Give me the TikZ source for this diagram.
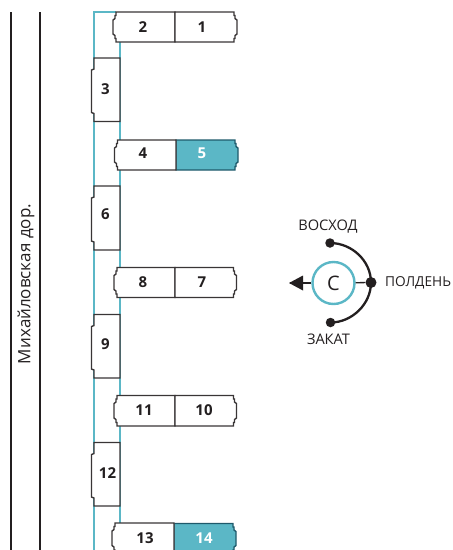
\documentclass[tikz,border=0pt]{standalone}
\usepackage{fontspec}
\setmainfont{Open Sans}
\definecolor{teal1}{HTML}{5BB7C6}
\definecolor{ink}{HTML}{231F20}
\definecolor{tealdark}{HTML}{1F5A6B}
\tikzset{
  x=1pt,y=-1pt,
  road/.style={ink,line width=2.2pt},
  walk/.style={teal1,line width=1.5pt},
  wall/.style={draw=ink!90,line width=1.4pt,fill=white,line join=miter},
  wallsold/.style={draw=tealdark,line width=1.4pt,fill=teal1,line join=miter},
  num/.style={font=\fontsize{15}{15}\selectfont\bfseries,text=ink,inner sep=0pt},
  numw/.style={font=\fontsize{15}{15}\selectfont\bfseries,text=white,inner sep=0pt},
  lab/.style={font=\fontsize{14.6}{15}\selectfont,text=ink,inner sep=0pt},
  dot/.style={circle,fill=ink,inner sep=0pt,minimum size=#1},
}
% left half: x-left main, divider, top
\newcommand{\lefthalf}[5]{% style, xl, xd, yt, yb
  \path[#1] (#2,#4) -- (#3,#4) -- (#3,#5) -- (#2,#5) -- (#2,#5-3.5) -- (#2-1,#5-3.5) -- (#2-1,#5-6.5) -- (#2-3,#5-8) -- (#2-3,#4+8) -- (#2-1,#4+6.5) -- (#2-1,#4+3.5) -- (#2,#4+3.5) -- cycle;}
\newcommand{\righthalf}[5]{% style, xd, xr, yt, yb
  \path[#1] (#3,#4) -- (#2,#4) -- (#2,#5) -- (#3,#5) -- (#3,#5-3.5) -- (#3+1,#5-3.5) -- (#3+1,#5-6.5) -- (#3+3,#5-8) -- (#3+3,#4+8) -- (#3+1,#4+6.5) -- (#3+1,#4+3.5) -- (#3,#4+3.5) -- cycle;}
\newcommand{\vbld}[4]{% xl, xr, yt, yb
  \path[wall] (#2,#3) -- (#1,#3) -- (#1,#3+11) -- (#1-2.5,#3+12) -- (#1-2.5,#4-9) -- (#1,#4-8) -- (#1,#4) -- (#2,#4) -- cycle;}
\begin{document}
\begin{tikzpicture}
\useasboundingbox (0,0) rectangle (453,550);
\clip (0,0) rectangle (453,550);
\draw[road] (11,12) -- (11,550);
\draw[road] (40,12) -- (40,550);
\node[rotate=90,font=\fontsize{17}{17}\selectfont,text=ink,inner sep=0pt] (road) at (26,284) {Михайловская дор.};
\draw[walk] (120,550) -- (120,42);
\draw[walk] (116,12) -- (94,12) -- (94,550);
% row 2/1
\lefthalf{wall}{116}{175}{12}{42}\righthalf{wall}{175}{234}{12}{42}
\node[num] (n2) at (143,27) {2}; \node[num] (n1) at (202,27) {1};
% 3
\vbld{94}{120}{58}{121.5}\node[num] (n3) at (105.5,89) {3};
% row 4/5
\righthalf{wallsold}{176}{235}{140}{170}\lefthalf{wall}{117.5}{176}{140}{170}
\node[num] (n4) at (143,153.5) {4}; \node[numw] (n5) at (202,153) {5};
% 6
\vbld{94}{120}{186}{250}\node[num] (n6) at (105.5,214) {6};
% row 8/7
\lefthalf{wall}{117}{175}{267.5}{297.5}\righthalf{wall}{175}{233.5}{267.5}{297.5}
\node[num] (n8) at (143,282) {8}; \node[num] (n7) at (202,282) {7};
% 9
\vbld{94}{120}{314.5}{378}\node[num] (n9) at (105.5,344) {9};
% row 11/10
\lefthalf{wall}{117}{175}{395.5}{426}\righthalf{wall}{175}{233.5}{395.5}{426}
\node[num] (n11) at (144,410) {11}; \node[num] (n10) at (204,410) {10};
% 12
\vbld{94}{120}{442.5}{506}\node[num] (n12) at (107.5,473) {12};
% row 13/14
\righthalf{wallsold}{174}{233}{523.5}{553.5}\lefthalf{wall}{115}{174}{523}{553.5}
\node[num] (n13) at (145,538) {13}; \node[numw] (n14) at (204,538) {14};
% compass
\node[circle,draw=teal1,line width=2.4pt,minimum size=42pt,inner sep=0pt,font=\fontsize{20}{20}\selectfont,text=ink] (sun) at (333.5,283) {С};
\node[dot=11pt] (noon) at (371,282.5) {};
\node[dot=9.5pt] (rise) at (330,243) {};
\node[dot=9.5pt] (set) at (330.5,322.5) {};
\coordinate (west) at (290,283);
\draw[ink,line width=2.3pt] (rise.center) .. controls (352,243) and (371,261) .. (noon.center) .. controls (371,304) and (352,322.5) .. (set.center);
\draw[ink,line width=1.3pt] (sun) -- (noon);
\draw[ink,line width=1.3pt] (sun) -- (west);
\fill[ink] (289,283) -- (303,275.5) -- (303,290.5) -- cycle;
\node[lab] (lrise) at (328,226.5) {ВОСХОД};
\node[lab,anchor=west,font=\fontsize{13.7}{15}\selectfont] (lnoon) at (385,282.5) {ПОЛДЕНЬ};
\node[lab] (lset) at (328.5,339) {ЗАКАТ};
\end{tikzpicture}
\end{document}
